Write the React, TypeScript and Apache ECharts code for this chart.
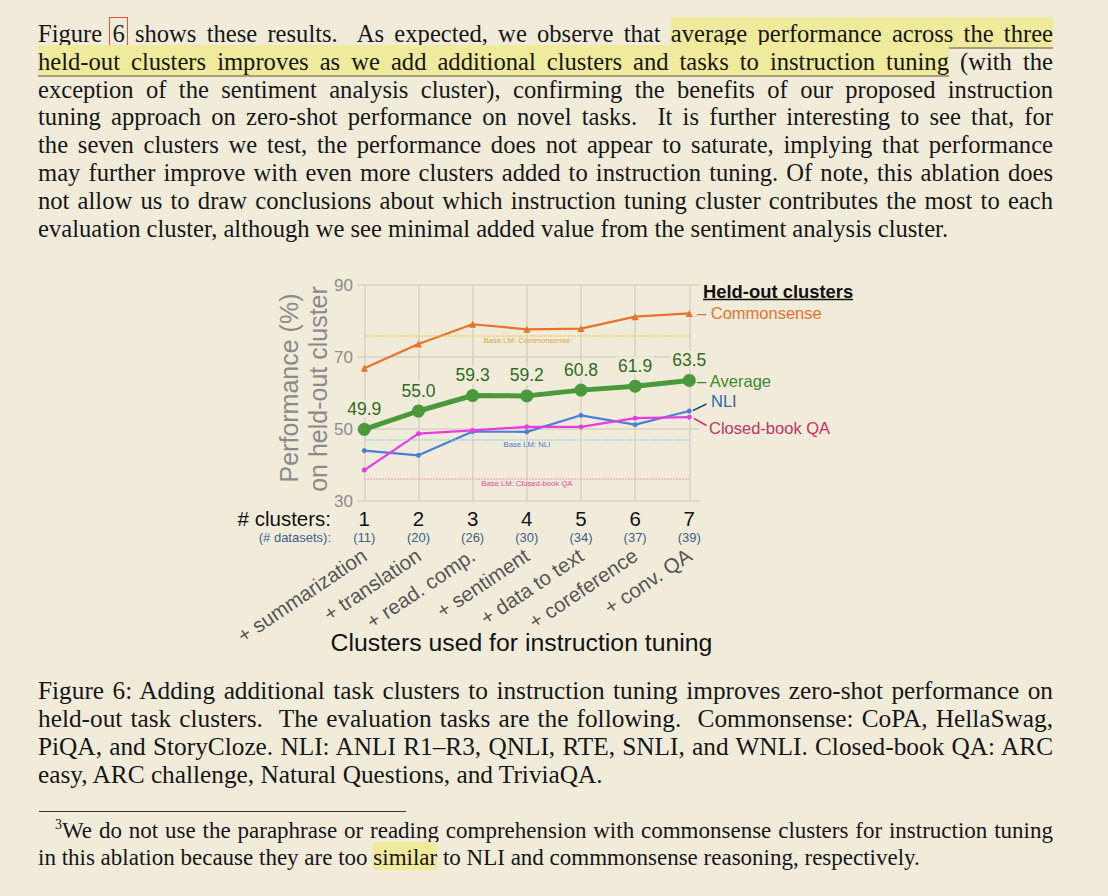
import React, { useEffect, useRef } from "react";
import * as echarts from "echarts";

// ---------------- chart data ----------------
const clusterCounts = ["1", "2", "3", "4", "5", "6", "7"];
const datasetCounts = ["(11)", "(20)", "(26)", "(30)", "(34)", "(37)", "(39)"];
const tuningClusters = [
  "+ summarization",
  "+ translation",
  "+ read. comp.",
  "+ sentiment",
  "+ data to text",
  "+ coreference",
  "+ conv. QA",
];
const commonsense = [66.9, 73.6, 79.1, 77.7, 77.9, 81.2, 82.1];
const average = [49.9, 55.0, 59.3, 59.2, 60.8, 61.9, 63.5];
const nli = [44.0, 42.7, 49.3, 49.2, 53.8, 51.2, 55.0];
const closedBookQA = [38.6, 48.7, 49.6, 50.6, 50.6, 53.0, 53.3];
const baseCommonsense = 76.0;
const baseNLI = 47.0;
const baseClosedBookQA = 36.2;
const yMin = 30;
const yMax = 90;
const yInterval = 20;

// ---------------- page text ----------------
type Seg = { t: string; hl?: boolean; box?: boolean };
const bodyLines: Seg[][] = [
  [
    { t: "Figure " },
    { t: "6", box: true },
    { t: " shows these results.  As expected, we observe that " },
    { t: "average performance across the three", hl: true },
  ],
  [
    { t: "held-out clusters improves as we add additional clusters and tasks to instruction tuning", hl: true },
    { t: " (with the" },
  ],
  [{ t: "exception of the sentiment analysis cluster), confirming the benefits of our proposed instruction" }],
  [{ t: "tuning approach on zero-shot performance on novel tasks.  It is further interesting to see that, for" }],
  [{ t: "the seven clusters we test, the performance does not appear to saturate, implying that performance" }],
  [{ t: "may further improve with even more clusters added to instruction tuning. Of note, this ablation does" }],
  [{ t: "not allow us to draw conclusions about which instruction tuning cluster contributes the most to each" }],
  [{ t: "evaluation cluster, although we see minimal added value from the sentiment analysis cluster." }],
];
const captionLines: Seg[][] = [
  [{ t: "Figure 6: Adding additional task clusters to instruction tuning improves zero-shot performance on" }],
  [{ t: "held-out task clusters.  The evaluation tasks are the following.  Commonsense: CoPA, HellaSwag," }],
  [{ t: "PiQA, and StoryCloze. NLI: ANLI R1\u2013R3, QNLI, RTE, SNLI, and WNLI. Closed-book QA: ARC" }],
  [{ t: "easy, ARC challenge, Natural Questions, and TriviaQA." }],
];
const footLine1: Seg[] = [
  { t: "We do not use the paraphrase or reading comprehension with commonsense clusters for instruction tuning" },
];
const footLine2: Seg[] = [
  { t: "in this ablation because they are too " },
  { t: "similar", hl: true },
  { t: " to NLI and commmonsense reasoning, respectively." },
];

const BG = "#F1ECDA";
const HL = "#EFEA9C";
const GRID = "#D6D2C4";
const SANS = '"Liberation Sans", Arial, Helvetica, sans-serif';

function renderSegs(segs: Seg[], underline = true) {
  return segs.map((s, i) => {
    if (s.hl)
      return (
        <span
          key={i}
          style={{
            background: HL,
            paddingTop: 3,
            borderBottom: underline ? "2px solid #A3A07A" : "none",
          }}
        >
          {s.t}
        </span>
      );
    if (s.box)
      return (
        <span key={i} style={{ outline: "1px solid #E5513B", outlineOffset: 2 }}>
          {s.t}
        </span>
      );
    return <span key={i}>{s.t}</span>;
  });
}

function TextLine(props: {
  segs: Seg[];
  baseline: number;
  left: number;
  width: number;
  justify: boolean;
  fontSize: number;
  underline?: boolean;
  children?: any;
}) {
  const { segs, baseline, left, width, justify, fontSize } = props;
  const lh = 28;
  const content = fontSize * 1.107;
  const top = baseline - ((lh - content) / 2 + fontSize * 0.891);
  return (
    <div
      style={{
        position: "absolute",
        left,
        top,
        width,
        fontSize,
        lineHeight: lh + "px",
        textAlign: justify ? "justify" : "left",
        textAlignLast: justify ? "justify" : "left",
        whiteSpace: "pre-wrap",
      } as any}
    >
      {props.children}
      {renderSegs(segs, props.underline !== false)}
    </div>
  );
}

export default function App() {
  const ref = useRef<HTMLDivElement>(null);

  useEffect(() => {
    if (!ref.current) return;
    const chart = echarts.init(ref.current, null, { renderer: "svg" });
    const baseMark = (value: number, name: string, lineColor: string, labelColor: string) => ({
      silent: true,
      symbol: ["none", "none"],
      lineStyle: { type: "dotted", color: lineColor, width: 1.5 },
      label: {
        show: true,
        position: "insideMiddleBottom",
        formatter: name,
        fontSize: 7.7,
        color: labelColor,
        distance: 1,
        fontFamily: SANS,
      },
      emphasis: { disabled: true },
      data: [[{ coord: [0, value] }, { coord: [6, value] }]],
    });
    const option: any = {
      animation: false,
      backgroundColor: "transparent",
      textStyle: { fontFamily: SANS },
      grid: [
        { left: 357, top: 285, width: 343, height: 216 },
        { left: 364.3, top: 285, width: 325, height: 216 },
      ],
      xAxis: [
        { gridIndex: 0, type: "value", min: 0, max: 1, show: false },
        {
          gridIndex: 1,
          type: "category",
          data: clusterCounts,
          boundaryGap: false,
          axisLine: { show: false },
          axisTick: { show: false },
          splitLine: { show: true, lineStyle: { color: GRID, width: 1.5 } },
          axisLabel: {
            interval: 0,
            margin: 6,
            formatter: (v: string, i: number) => `{n|${v}}\n{d|${datasetCounts[i]}}`,
            rich: {
              n: { fontSize: 20.5, lineHeight: 22, color: "#111111", fontFamily: SANS },
              d: { fontSize: 13, lineHeight: 16, color: "#3E5F8A", fontFamily: SANS },
            },
          },
        },
        {
          gridIndex: 1,
          type: "category",
          data: tuningClusters,
          boundaryGap: false,
          position: "bottom",
          axisLine: { show: false },
          axisTick: { show: false },
          splitLine: { show: false },
          axisLabel: { interval: 0, rotate: 34, margin: 52, fontSize: 20.5, color: "#555555" },
        },
      ],
      yAxis: [
        {
          gridIndex: 0,
          type: "value",
          min: yMin,
          max: yMax,
          interval: yInterval,
          axisLine: { show: false },
          axisTick: { show: false },
          splitLine: { show: true, lineStyle: { color: GRID, width: 1.5 } },
          axisLabel: { margin: 4, fontSize: 17, color: "#8C8C8C" },
        },
        { gridIndex: 1, type: "value", min: yMin, max: yMax, interval: yInterval, show: false },
      ],
      series: [
        {
          name: "Commonsense",
          type: "line",
          xAxisIndex: 1,
          yAxisIndex: 1,
          data: commonsense,
          color: "#E8722C",
          lineStyle: { width: 2.2, color: "#E8722C" },
          symbol: "triangle",
          symbolSize: 7,
          emphasis: { disabled: true },
          markLine: baseMark(baseCommonsense, "Base LM: Commonsense", "#F2C548", "#E8A23C"),
        },
        {
          name: "NLI",
          type: "line",
          xAxisIndex: 1,
          yAxisIndex: 1,
          data: nli,
          color: "#4A7FD6",
          lineStyle: { width: 2.2, color: "#4A7FD6" },
          symbol: "circle",
          symbolSize: 5,
          emphasis: { disabled: true },
          markLine: baseMark(baseNLI, "Base LM: NLI", "#92C9EC", "#4A78C0"),
        },
        {
          name: "Closed-book QA",
          type: "line",
          xAxisIndex: 1,
          yAxisIndex: 1,
          data: closedBookQA,
          color: "#E93BE0",
          lineStyle: { width: 2.2, color: "#E93BE0" },
          symbol: "circle",
          symbolSize: 5,
          emphasis: { disabled: true },
          markLine: baseMark(baseClosedBookQA, "Base LM: Closed-book QA", "#F29BBE", "#E8489C"),
        },
        {
          name: "Average",
          type: "line",
          xAxisIndex: 1,
          yAxisIndex: 1,
          data: average,
          color: "#4A9A3C",
          lineStyle: { width: 5, color: "#4A9A3C" },
          symbol: "circle",
          symbolSize: 13,
          emphasis: { disabled: true },
          label: {
            show: true,
            position: "top",
            distance: 5,
            fontSize: 17.5,
            color: "#2F6B22",
            backgroundColor: BG,
            padding: [0, 2],
            formatter: (p: any) => Number(p.value).toFixed(1),
          },
        },
      ],
      graphic: [
        {
          type: "text",
          x: 289,
          y: 388,
          rotation: Math.PI / 2,
          style: {
            text: "Performance (%)",
            fontSize: 25,
            fontFamily: SANS,
            fill: "#8A8A8A",
            align: "center",
            verticalAlign: "middle",
          },
        },
        {
          type: "text",
          x: 318,
          y: 389,
          rotation: Math.PI / 2,
          style: {
            text: "on held-out cluster",
            fontSize: 25,
            fontFamily: SANS,
            fill: "#8A8A8A",
            align: "center",
            verticalAlign: "middle",
          },
        },
        {
          type: "text",
          x: 331,
          y: 518,
          style: { text: "# clusters:", fontSize: 20.5, fontFamily: SANS, fill: "#111111", align: "right", verticalAlign: "middle" },
        },
        {
          type: "text",
          x: 331,
          y: 537,
          style: { text: "(# datasets):", fontSize: 13, fontFamily: SANS, fill: "#3E5F8A", align: "right", verticalAlign: "middle" },
        },
        {
          type: "text",
          x: 521.5,
          y: 642,
          style: {
            text: "Clusters used for instruction tuning",
            fontSize: 24.8,
            fontFamily: SANS,
            fill: "#111111",
            align: "center",
            verticalAlign: "middle",
          },
        },
        {
          type: "text",
          x: 703,
          y: 291,
          style: { text: "Held-out clusters", fontSize: 18.4, fontWeight: "bold", fontFamily: SANS, fill: "#111111", align: "left", verticalAlign: "middle" },
        },
        { type: "line", shape: { x1: 703, y1: 299.5, x2: 853, y2: 299.5 }, style: { stroke: "#111111", lineWidth: 1.3 } },
        {
          type: "text",
          x: 697,
          y: 312.5,
          style: { text: "\u2013 Commonsense", fontSize: 16.5, fontFamily: SANS, fill: "#E8722C", align: "left", verticalAlign: "middle" },
        },
        {
          type: "text",
          x: 697,
          y: 381,
          style: { text: "\u2013 Average", fontSize: 16.5, fontFamily: SANS, fill: "#3D8A2E", align: "left", verticalAlign: "middle" },
        },
        { type: "line", shape: { x1: 693, y1: 410.5, x2: 706.5, y2: 404 }, style: { stroke: "#27467E", lineWidth: 1.5 } },
        {
          type: "text",
          x: 711,
          y: 401,
          style: { text: "NLI", fontSize: 16.5, fontFamily: SANS, fill: "#2E66B0", align: "left", verticalAlign: "middle" },
        },
        { type: "line", shape: { x1: 694, y1: 418.5, x2: 706.5, y2: 425.5 }, style: { stroke: "#C2406C", lineWidth: 1.5 } },
        {
          type: "text",
          x: 709,
          y: 428,
          style: { text: "Closed-book QA", fontSize: 16.5, fontFamily: SANS, fill: "#C72F68", align: "left", verticalAlign: "middle" },
        },
      ],
    };
    chart.setOption(option);
    return () => chart.dispose();
  }, []);

  const bodyBaselines = [42, 70, 98, 125.5, 153.5, 181.5, 209.5, 237.5];
  const captionBaselines = [699, 727, 755, 783];

  return (
    <div
      style={{
        position: "absolute",
        left: 0,
        top: 0,
        width: 1108,
        height: 896,
        background: BG,
        overflow: "hidden",
        fontFamily: '"Liberation Serif", "Times New Roman", Times, serif',
        color: "#161616",
      }}
    >
      {bodyLines.map((segs, i) => (
        <TextLine
          key={"b" + i}
          segs={segs}
          baseline={bodyBaselines[i]}
          left={38}
          width={1015}
          justify={i < bodyLines.length - 1}
          fontSize={24.6}
        />
      ))}
      {captionLines.map((segs, i) => (
        <TextLine
          key={"c" + i}
          segs={segs}
          baseline={captionBaselines[i]}
          left={38}
          width={1015}
          justify={i < captionLines.length - 1}
          fontSize={25.3}
        />
      ))}
      <div style={{ position: "absolute", left: 39, top: 811, width: 367, height: 1, background: "#333" }} />
      <TextLine segs={footLine1} baseline={839} left={55} width={998} justify={true} fontSize={23}>
        <sup style={{ fontSize: 14, verticalAlign: "9px", lineHeight: 0 }}>3</sup>
      </TextLine>
      <TextLine segs={footLine2} baseline={866} left={38} width={1015} justify={false} fontSize={23} underline={false} />
      <div ref={ref} style={{ position: "absolute", left: 0, top: 0, width: 1108, height: 896 }} />
    </div>
  );
}
